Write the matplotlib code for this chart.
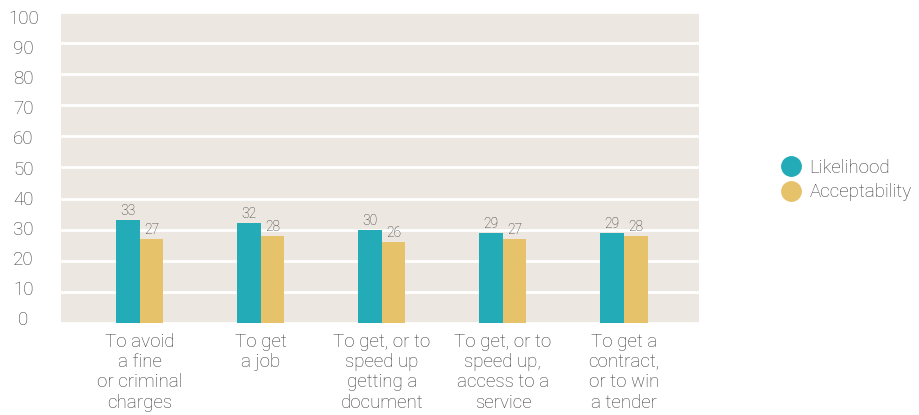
import matplotlib
matplotlib.use("Agg")
import matplotlib.pyplot as plt
import matplotlib.transforms as mtransforms
from matplotlib.lines import Line2D
import numpy as np

categories = [
    "To avoid\na fine\nor criminal\ncharges",
    "To get\na job",
    "To get, or to\nspeed up\ngetting a\ndocument",
    "To get, or to\nspeed up,\naccess to a\nservice",
    "To get a\ncontract,\nor to win\na tender",
]
likelihood = [33, 32, 30, 29, 29]
acceptability = [27, 28, 26, 27, 28]
series_names = ["Likelihood", "Acceptability"]
yticks = [0, 10, 20, 30, 40, 50, 60, 70, 80, 90, 100]

teal = "#23ACB7"
gold = "#E6C26A"
bg = "#ECE7E0"
txt = "#3a3a3a"

plt.rcParams['font.family'] = ['Roboto', 'DejaVu Sans']
plt.rcParams['font.weight'] = 'light'

fig = plt.figure(figsize=(9.19, 4.15), dpi=100)
ax = fig.add_axes([61/919, 1-323/415, (699-61)/919, (323-12)/415])
ax.set_facecolor(bg)

x = np.arange(len(categories))
w = 0.195
b1 = ax.bar(x - w/2, likelihood, w, color=teal, zorder=3)
b2 = ax.bar(x + w/2, acceptability, w, color=gold, zorder=3)

for bars, vals in ((b1, likelihood), (b2, acceptability)):
    for r, v in zip(bars, vals):
        ax.annotate(str(v), (r.get_x() + r.get_width()/2, r.get_height()),
                    xytext=(0, 1.5), textcoords="offset points",
                    ha="center", va="bottom", fontsize=10, color="#3a3a3a",
                    fontweight="light")

ax.set_xlim(-0.65, 4.62)
ax.set_ylim(0, 100)
ax.set_yticks(yticks)
ax.set_yticklabels([str(t) for t in yticks])
ax.yaxis.grid(True, color="white", linewidth=2, zorder=1)
ax.set_axisbelow(True)
for s in ax.spines.values():
    s.set_visible(False)
ax.tick_params(axis="y", length=0, pad=27, labelsize=13.5, labelcolor=txt)
ax.tick_params(axis="x", length=0, pad=7, labelsize=13.5, labelcolor=txt)
for lab in ax.get_yticklabels():
    lab.set_horizontalalignment("center")
ax.set_xticks(x)
ax.set_xticklabels(categories, linespacing=1.17)

# slight vertical shift of y tick labels as in reference
fig.canvas.draw()
for lab, t in zip(ax.get_yticklabels(), yticks):
    dy = (t - 50) / 50 * -5.5
    lab.set_transform(lab.get_transform() + mtransforms.ScaledTranslation(0, dy/100, fig.dpi_scale_trans))

handles = [Line2D([0], [0], marker="o", linestyle="none", markersize=14,
                  markerfacecolor=c, markeredgecolor=c) for c in (teal, gold)]
leg = fig.legend(handles, series_names, loc="center left",
                 bbox_to_anchor=(770/919, 1-180/415), frameon=False,
                 fontsize=13.5, handletextpad=0.4, labelspacing=0.35,
                 borderpad=0, handlelength=1.2)
for t in leg.get_texts():
    t.set_color(txt)

fig.savefig("out.png", dpi=100)
